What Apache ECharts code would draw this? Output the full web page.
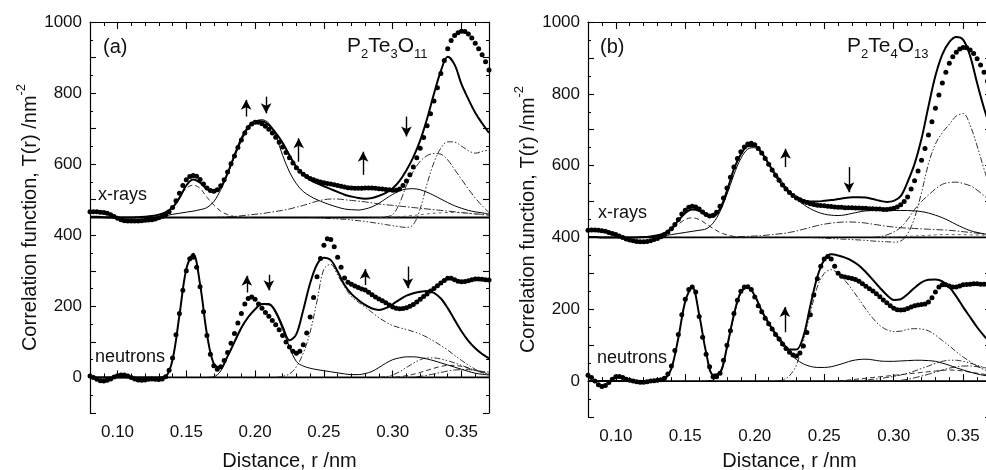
<!DOCTYPE html>
<html><head><meta charset="utf-8">
<script src="https://cdn.jsdelivr.net/npm/echarts@6/dist/echarts.min.js"></script>
<style>html,body{margin:0;padding:0;background:#fff}#c{width:986px;height:470px}</style>
</head><body><div id="c"></div>
<script>
// ---------- sampling ----------
const R_MIN = 0.08, R_MAX = 0.37;
const LINE_STEP = 0.005;   // fitted / component curves
const DOT_STEP = 0.0025;   // experimental points
const majorTicksX = [0.10, 0.15, 0.20, 0.25, 0.30, 0.35];

// ---------- panel (a) P2Te3O11 : x-rays (offset 450) ----------
const aXBase = 450;
const aXDots = [466,466,466,465,464,462,458,453,448,444, 441,440,440,440,440,441,442,443,444,446,
 449,453,458,466,478,497,518,540,556,565, 568,566,557,544,533,526,524,528,539,556,
 578,601,623,647,668,688,703,713,718,718, 714,707,698,688,676,662,648,633,618,603,
 590,580,572,565,560,556,553,550,548,546, 544,542,540,538,536,534,533,532,532,532,
 533,533,533,532,531,530,529,528,527,527, 530,540,553,570,592,618,645,675,708,742,
 778,815,855,892,925,948,962,970,974,973, 966,955,940,925,908,888,865];
const aXFit = [452,452,451,450,450,450,450,451,452,454, 458,465,478,505,540,557,548,530,523,535,
 575,625,672,705,720,721,710,688,660,625, 592,570,556,546,538,530,522,514,509,505,
 503,505,511,519,532,553,583,620,667,728, 798,862,902,880,825,783,745,715,688];
const aXPart = [450,450,450,450,450,450,450,450,450,450, 452,455,459,462,465,468,472,478,495,528,
 572,620,665,700,720,725,715,680,625,578, 545,523,510,500,492,485,479,474,472,471,
 474,480,490,503,515,525,530,531,528,521, 512,502,492,483,476,470,466,463,460];
const aXPOStart = 0.12;
const aXPO = [450,450,452,460,480,508,532,541,532,507,485,468,458,453,451,450,450];
const aXBroadStart = 0.17;
const aXBroad = [450,451,452,453,455,457,459,461,464,467, 470,474,479,484,490,496,500,502,502,500,
 498,496,494,491,488,486,484,482,480,478, 476,474,472,470,468,466,464,462,460,459, 457];
const aXTeTeStart = 0.24;
const aXTeTe = [450,449,448,447,446,445,443,441,439,436, 433,430,427,424,422,430,475,545,605,645,
 663,662,651,638,631,636,640];
const aXComp2Start = 0.285;
const aXComp2 = [450,450,452,458,490,540,580,608,624,630, 628,612,585,558,530,505,483,464];
const aXLowStart = 0.29;
const aXLow = [450,450,451,452,454,456,458,460,462,463, 464,464,463,462,460,458,456];

// ---------- panel (a) : neutrons ----------
const aNBase = 0;
const aNDots = [4,0,-5,-9,-10,-8,-4,1,5,7, 7,4,0,-4,-7,-8,-7,-5,-4,-5,
 -6,-4,2,20,55,120,180,245,300,334, 338,310,255,185,118,65,33,23,30,48,
 70,96,124,153,180,207,222,226,220,207, 195,183,172,160,148,134,118,100,86,74,
 68,74,92,125,170,225,283,335,372,390, 388,368,338,310,280,268,262,257,253,249,
 246,240,233,226,221,216,210,204,198,195, 193,194,196,200,205,212,220,228,235,243,
 250,258,266,273,279,279,275,271,269,270, 272,275,277,277,276,275,274];
const aNFit = [0,0,0,0,0,0,0,0,0,0, 0,3,50,175,305,348,262,122,38,28,
 60,100,140,170,192,207,207,185,143,105, 122,190,265,318,337,330,298,260,235,218,
 204,194,190,195,206,219,230,237,241,243, 238,222,195,162,130,103,82,66,54];
const aNTeOStart = 0.165;
const aNTeO = [0,2,18,58,98,138,168,190,205,204, 180,135,85,45,32,26,22,19,16,13,
 10,8,8,11,17,28,40,50,55,58, 58,56,52,47,41,35,29,23,17,12, 9,7];
const aNBigStart = 0.215;
const aNBig = [0,3,10,30,68,128,215,305,318,288, 255,228,212,198,183,168,156,146,140,135,
 129,122,113,102,90,77,62,48,35,23, 14,8];
const aNSmallStart = 0.29;
const aNSmA = [0,2,7,16,28,40,50,55,55,52, 47,41,34,27,20,14,10];
const aNSmB = [0,0,0,2,5,9,14,20,26,31, 34,34,31,26,20,15,11];
const aNSmC = [0,0,0,0,0,1,3,6,10,14, 18,21,22,22,20,17,15];

// ---------- panel (b) P2Te4O13 : x-rays (offset 400) ----------
const bXBase = 400;
const bXDots = [420,421,421,420,419,417,414,411,408,404, 400,396,393,391,389,388,388,389,391,394,
 397,402,408,415,424,436,450,465,476,484, 487,485,479,471,464,460,462,470,487,510,
 538,568,596,620,639,652,660,662,658,648, 635,620,604,588,573,559,546,535,525,517,
 510,505,500,497,494,492,490,489,488,487, 486,485,484,484,483,483,483,482,482,481,
 481,480,480,479,479,478,478,479,481,485, 491,500,513,535,558,585,615,648,685,722,
 760,797,830,860,885,903,916,925,929,928, 922,912,898,880,860,835,810];
const bXFit = [401,401,400,400,400,400,400,400,401,403, 406,412,425,447,468,478,474,462,458,480,
 530,590,632,654,655,636,605,572,545,525, 512,504,500,500,502,504,507,510,512,512,
 511,507,502,499,502,515,555,605,675,765, 850,910,944,958,950,905,830,760,700];
const bXPart = [400,400,400,400,400,400,400,400,400,401, 403,405,408,411,414,417,420,424,440,472,
 520,575,620,646,650,632,605,578,553,528, 508,492,480,471,465,462,461,463,467,471,
 474,475,475,475,475,475,475,474,472,468, 462,455,446,436,427,419,414,410,407];
const bXPOStart = 0.12;
const bXPO = [400,400,403,410,422,437,450,455,450,438,425,414,407,403,401,400,400];
const bXBroadStart = 0.17;
const bXBroad = [400,400,400,401,402,403,404,405,407,409, 411,414,418,423,428,433,437,440,442,443,
 443,442,440,437,434,431,429,427,426,425, 424,423,422,421,420,418,416,414,412,410, 409];
const bXTeTeStart = 0.24;
const bXTeTe = [400,399,398,397,396,395,394,393,392,390, 389,388,387,390,410,455,525,605,660,692,
 715,738,745,712,655,590,530];
const bXComp2Start = 0.285;
const bXComp2 = [400,402,407,415,428,450,478,500,518,535, 548,553,554,550,544,532,516,500];
const bXLowStart = 0.29;
const bXLow = [400,400,401,402,403,404,405,406,407,408, 408,408,408,407,407,406,405];

// ---------- panel (b) : neutrons ----------
const bNBase = 0;
const bNDots = [16,10,0,-10,-15,-12,-4,5,12,13, 10,5,2,0,-2,-3,-3,-2,0,1,
 2,4,8,20,42,85,130,185,228,255, 262,248,180,122,75,40,12,12,22,58,
 100,140,188,225,250,262,263,255,234,210, 193,175,160,145,130,117,103,91,80,73,
 70,78,98,135,185,240,285,320,340,347, 340,320,300,292,290,288,286,283,278,271,
 264,257,251,243,235,226,218,210,203,199, 198,199,202,206,210,212,213,215,220,232,
 248,262,268,268,265,262,262,265,268,269, 270,271,271,270,270,270,270];
const bNFit = [0,0,0,0,0,0,0,0,0,0, 0,5,35,120,222,262,185,80,18,22,
 95,185,248,262,238,196,162,132,107,88, 88,125,210,290,338,353,350,344,335,322,
 303,282,260,240,226,228,242,260,275,282, 283,278,262,236,206,178,150,126,105];
const bNTeOStart = 0.165;
const bNTeO = [0,3,25,92,182,245,260,236,193,158, 127,100,78,60,48,41,38,38,40,45,
 51,57,60,61,59,56,55,55,56,57, 58,58,57,55,50,44,37,31,25,20, 16,13];
const bNBigStart = 0.215;
const bNBig = [0,3,15,45,110,190,262,300,310,300, 280,255,228,200,175,155,143,138,139,144,
 146,145,140,128,113,98,82,67,54,42, 32,25];
const bNSmallStart = 0.26;
const bNSmA = [0,0,1,2,3,5,7,10,13,17, 22,28,35,42,49,55,58,58,55,50, 44,38,33];
const bNSmB = [0,2,4,6,8,10,12,14,16,18, 20,22,24,26,28,30,31,30,28,25, 22,19,16];
const bNSmC = [0,0,0,0,0,0,0,0,0,2, 5,9,14,19,25,31,36,40,42,42, 40,37,34];

// ---------- arrows [r, tail, head] ----------
const aArrowsX = [[0.1935,734,781],[0.208,790,743],[0.2317,607,673],[0.2785,570,635],[0.310,734,678]];
const aArrowsN = [[0.194,239,286],[0.210,289,245],[0.280,260,305],[0.311,312,251]];
const bArrowsX = [[0.2222,596,647],[0.2678,596,526]];
const bArrowsN = [[0.2217,136,206]];

// ---------- helpers ----------
const FONT = '"Liberation Sans", Arial, Helvetica, sans-serif';
function onGrid(start, step, vals){ return vals.map((v,i)=>[+(start+step*i).toFixed(5), v]); }
const DASH = [5,3], DASHDOT = [7,2,1.5,2], DASHDOTDOT = [6,2,1.5,2,1.5,2], SHORTDASH = [3,3];

function lineSeries(g, data, width, type, color){
  return {type:'line', xAxisIndex:4*g, yAxisIndex:2*g, data, showSymbol:false, symbol:'none',
    smooth:0.35, lineStyle:{width, type, color}, silent:true, z:2};
}
function dotSeries(g, data){
  return {type:'scatter', xAxisIndex:4*g, yAxisIndex:2*g, data, symbol:'circle', symbolSize:5,
    itemStyle:{color:'#000', opacity:1}, silent:true, z:4};
}
function baseSeries(g, level, arrows){
  return {type:'line', xAxisIndex:4*g, yAxisIndex:2*g, data:[[R_MIN,level],[R_MAX,level]],
    showSymbol:false, symbol:'none', lineStyle:{width:1.8, color:'#000'}, silent:true, z:1,
    markLine:{silent:true, symbol:['none','arrow'], symbolSize:[8,10], animation:false,
      lineStyle:{color:'#000', width:1.4, type:'solid'}, label:{show:false},
      data: arrows.map(a=>[{coord:[a[0],a[1]]},{coord:[a[0],a[2]]}])}};
}
function panelSeries(g, P){
  const C = '#1a1a1a';
  return [
    baseSeries(g, P.xBase, P.arrowsX),
    baseSeries(g, P.nBase, P.arrowsN),
    lineSeries(g, onGrid(P.xPOStart, LINE_STEP, P.xPO), 0.9, DASH, C),
    lineSeries(g, onGrid(P.xBroadStart, LINE_STEP, P.xBroad), 0.9, DASHDOT, C),
    lineSeries(g, onGrid(P.xTeTeStart, LINE_STEP, P.xTeTe), 0.9, DASHDOTDOT, C),
    lineSeries(g, onGrid(P.xComp2Start, LINE_STEP, P.xComp2), 0.9, DASHDOT, C),
    lineSeries(g, onGrid(P.xLowStart, LINE_STEP, P.xLow), 0.8, SHORTDASH, '#444'),
    lineSeries(g, onGrid(R_MIN, LINE_STEP, P.xPart), 1.0, 'solid', '#000'),
    lineSeries(g, onGrid(R_MIN, LINE_STEP, P.xFit), 2.0, 'solid', '#000'),
    dotSeries(g, onGrid(R_MIN, DOT_STEP, P.xDots)),
    lineSeries(g, onGrid(P.nBigStart, LINE_STEP, P.nBig), 0.9, DASHDOTDOT, C),
    lineSeries(g, onGrid(P.nSmallStart, LINE_STEP, P.nSmA), 0.9, DASHDOTDOT, C),
    lineSeries(g, onGrid(P.nSmallStart, LINE_STEP, P.nSmB), 0.9, DASH, C),
    lineSeries(g, onGrid(P.nSmallStart, LINE_STEP, P.nSmC), 0.9, DASHDOT, C),
    lineSeries(g, onGrid(P.nTeOStart, LINE_STEP, P.nTeO), 1.0, 'solid', '#000'),
    lineSeries(g, onGrid(R_MIN, LINE_STEP, P.nFit), 2.0, 'solid', '#000'),
    dotSeries(g, onGrid(R_MIN, DOT_STEP, P.nDots))
  ];
}
const panelA = {xBase:aXBase, nBase:aNBase, arrowsX:aArrowsX, arrowsN:aArrowsN,
  xDots:aXDots, xFit:aXFit, xPart:aXPart, xPO:aXPO, xPOStart:aXPOStart, xBroad:aXBroad, xBroadStart:aXBroadStart,
  xTeTe:aXTeTe, xTeTeStart:aXTeTeStart, xComp2:aXComp2, xComp2Start:aXComp2Start, xLow:aXLow, xLowStart:aXLowStart,
  nDots:aNDots, nFit:aNFit, nTeO:aNTeO, nTeOStart:aNTeOStart, nBig:aNBig, nBigStart:aNBigStart,
  nSmA:aNSmA, nSmB:aNSmB, nSmC:aNSmC, nSmallStart:aNSmallStart};
const panelB = {xBase:bXBase, nBase:bNBase, arrowsX:bArrowsX, arrowsN:bArrowsN,
  xDots:bXDots, xFit:bXFit, xPart:bXPart, xPO:bXPO, xPOStart:bXPOStart, xBroad:bXBroad, xBroadStart:bXBroadStart,
  xTeTe:bXTeTe, xTeTeStart:bXTeTeStart, xComp2:bXComp2, xComp2Start:bXComp2Start, xLow:bXLow, xLowStart:bXLowStart,
  nDots:bNDots, nFit:bNFit, nTeO:bNTeO, nTeOStart:bNTeOStart, nBig:bNBig, nBigStart:bNBigStart,
  nSmA:bNSmA, nSmB:bNSmB, nSmC:bNSmC, nSmallStart:bNSmallStart};

// ---------- axes ----------
const axLine = {show:true, lineStyle:{color:'#000', width:1.2}};
function xAxes(g, nameGap){
  const base = {gridIndex:g, type:'value', min:R_MIN, max:R_MAX, splitLine:{show:false}};
  return [
    Object.assign({}, base, {position:'bottom', axisLine:axLine,
      axisTick:{show:true, inside:true, length:7, customValues:majorTicksX, lineStyle:{color:'#000', width:1.1}},
      axisLabel:{show:true, customValues:majorTicksX, formatter:v=>Number(v).toFixed(2), fontSize:17, fontFamily:FONT, color:'#111', margin:11},
      name:'Distance, r /nm', nameLocation:'middle', nameGap:nameGap,
      nameTextStyle:{fontSize:20, fontFamily:FONT, color:'#111'}}),
    Object.assign({}, base, {position:'bottom', interval:0.01, axisLine:{show:false},
      axisTick:{show:true, inside:true, length:4, lineStyle:{color:'#000', width:1}}, axisLabel:{show:false}}),
    Object.assign({}, base, {position:'top', axisLine:axLine,
      axisTick:{show:true, inside:true, length:7, customValues:majorTicksX, lineStyle:{color:'#000', width:1.1}},
      axisLabel:{show:false}}),
    Object.assign({}, base, {position:'top', interval:0.01, axisLine:{show:false},
      axisTick:{show:true, inside:true, length:4, lineStyle:{color:'#000', width:1}}, axisLabel:{show:false}})
  ];
}
function yAxes(g, nameGap){
  const base = {gridIndex:g, type:'value', min:-100, max:1000, interval:100, splitLine:{show:false},
    axisLine:axLine, axisTick:{show:true, inside:true, length:6, lineStyle:{color:'#000', width:1.1}},
    minorTick:{show:true, splitNumber:2, length:3, lineStyle:{color:'#000', width:1}}, minorSplitLine:{show:false}};
  return [
    Object.assign({}, base, {position:'left',
      axisLabel:{show:true, formatter:v=>(v>=0 && v%200===0)?String(v):'', fontSize:17, fontFamily:FONT, color:'#111', margin:8},
      name:'Correlation function, T(r) /nm{sup|-2}', nameLocation:'middle', nameGap:nameGap,
      nameTextStyle:{fontSize:20, fontFamily:FONT, color:'#111', rich:{sup:{fontSize:13, fontFamily:FONT, color:'#111', verticalAlign:'top', lineHeight:30}}}}),
    Object.assign({}, base, {position:'right', axisLabel:{show:false}})
  ];
}

function label(text, left, top, size){
  return {text, left, top, padding:0, textStyle:{fontSize:size, fontWeight:'normal', fontFamily:FONT, color:'#111'}};
}
function formula(parts, left, top){
  const txt = parts.map((p,i)=> i%2===0 ? '{m|'+p+'}' : '{s|'+p+'}').join('');
  return {text:txt, left, top, padding:0, textStyle:{fontSize:21, fontWeight:'normal', fontFamily:FONT, color:'#111',
    rich:{m:{fontSize:21, fontFamily:FONT, color:'#111', lineHeight:30, verticalAlign:'middle'},
          s:{fontSize:13, fontFamily:FONT, color:'#111', lineHeight:13, verticalAlign:'bottom'}}}};
}

const chart = echarts.init(document.getElementById('c'), null, {renderer:'canvas'});
chart.setOption({
  animation:false,
  backgroundColor:'#fff',
  title:[
    label('(a)', 103, 37, 20),
    formula(['P','2','Te','3','O','11'], 347, 31),
    label('x-rays', 98, 186, 18),
    label('neutrons', 95, 348, 18),
    label('(b)', 600, 37, 20),
    formula(['P','2','Te','4','O','13'], 847, 31),
    label('x-rays', 598, 204, 18),
    label('neutrons', 597, 349, 18)
  ],
  grid:[
    {left:90, top:22, width:399, height:391, containLabel:false, outerBoundsMode:'none'},
    {left:588, top:22, width:403, height:395, containLabel:false, outerBoundsMode:'none'}
  ],
  xAxis:[...xAxes(0, 38), ...xAxes(1, 34)],
  yAxis:[...yAxes(0, 45), ...yAxes(1, 32)],
  series:[...panelSeries(0, panelA), ...panelSeries(1, panelB)]
});
</script>
</body></html>
